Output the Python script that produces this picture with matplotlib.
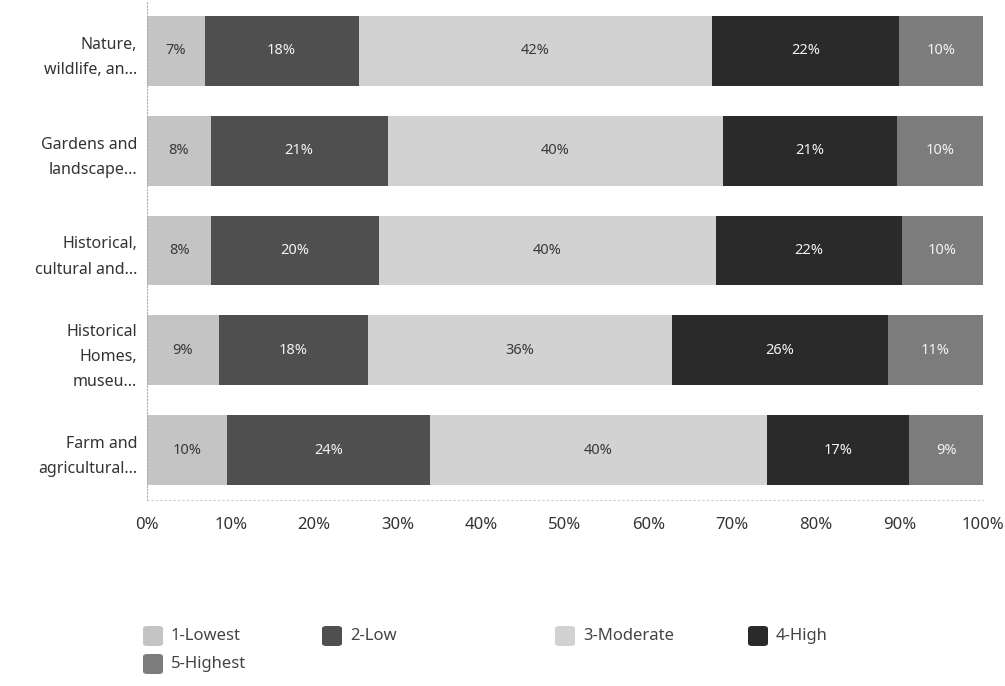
import matplotlib
matplotlib.use("Agg")
import matplotlib.pyplot as plt
from matplotlib.patches import FancyBboxPatch
import numpy as np

plt.rcParams['font.family'] = ['Noto Sans', 'DejaVu Sans']

categories = ["Nature,\nwildlife, an...", "Gardens and\nlandscape...",
              "Historical,\ncultural and...", "Historical\nHomes,\nmuseu...",
              "Farm and\nagricultural..."]
series_names = ["1-Lowest", "2-Low", "3-Moderate", "4-High", "5-Highest"]
lowest   = [6.9, 7.6, 7.7, 8.6, 9.6]
low      = [18.4, 21.2, 20.0, 17.8, 24.2]
moderate = [42.3, 40.1, 40.4, 36.4, 40.4]
high     = [22.4, 20.8, 22.2, 25.8, 17.0]
highest  = [10.0, 10.3, 9.7, 11.4, 8.8]
xticks = [0, 10, 20, 30, 40, 50, 60, 70, 80, 90, 100]
xticklabels = ["0%", "10%", "20%", "30%", "40%", "50%", "60%", "70%", "80%", "90%", "100%"]

series = [lowest, low, moderate, high, highest]
colors = ["#c4c4c4", "#4f4f4f", "#d2d2d2", "#2a2a2a", "#7c7c7c"]
text_colors = ["#3a3a3a", "#f2f2f2", "#3a3a3a", "#f2f2f2", "#f2f2f2"]

W, H = 1005, 686
fig = plt.figure(figsize=(W / 100, H / 100), dpi=100)
ax = fig.add_axes([147 / W, 1 - 500 / H, (983 - 147) / W, 499 / H])

y = np.arange(len(categories))
left = np.zeros(len(categories))
for vals, col, tcol in zip(series, colors, text_colors):
    vals = np.array(vals)
    ax.barh(y, vals, left=left, height=0.7, color=col, edgecolor='none')
    for yi, (l, v) in enumerate(zip(left, vals)):
        ax.text(l + v / 2, yi, f"{v:.0f}%", ha='center', va='center',
                fontsize=10.5, color=tcol)
    left += vals

ax.set_xlim(0, 100)
ax.set_ylim(len(categories) - 0.5, -0.5)
ax.set_yticks(y)
ax.set_yticklabels(categories, fontsize=11.5, color="#333333", linespacing=1.75)
ax.set_xticks(xticks)
ax.set_xticklabels(xticklabels, fontsize=12, color="#333333")
ax.tick_params(axis='both', length=0)
ax.tick_params(axis='x', pad=12)
ax.tick_params(axis='y', pad=7)
for s in ['top', 'right']:
    ax.spines[s].set_visible(False)
ax.spines['left'].set_color("#aaaaaa")
ax.spines['left'].set_linestyle((0, (1, 2)))
ax.spines['left'].set_linewidth(0.8)
ax.spines['bottom'].set_color("#cccccc")
ax.spines['bottom'].set_linestyle((0, (1, 3)))
ax.spines['bottom'].set_linewidth(0.8)

# legend
legend_pos = [(143, 636), (322, 636), (555, 636), (748, 636), (143, 664)]
for name, col, (px, py) in zip(series_names, colors, legend_pos):
    box = FancyBboxPatch((px / W, 1 - (py + 10) / H), 20 / W, 20 / H,
                         boxstyle="round,pad=0,rounding_size=0.004",
                         transform=fig.transFigure, facecolor=col, edgecolor='none')
    fig.patches.append(box)
    fig.text((px + 28) / W, 1 - py / H, name, fontsize=12, color="#444444",
             va='center', ha='left')

fig.savefig("out.png", dpi=100)
